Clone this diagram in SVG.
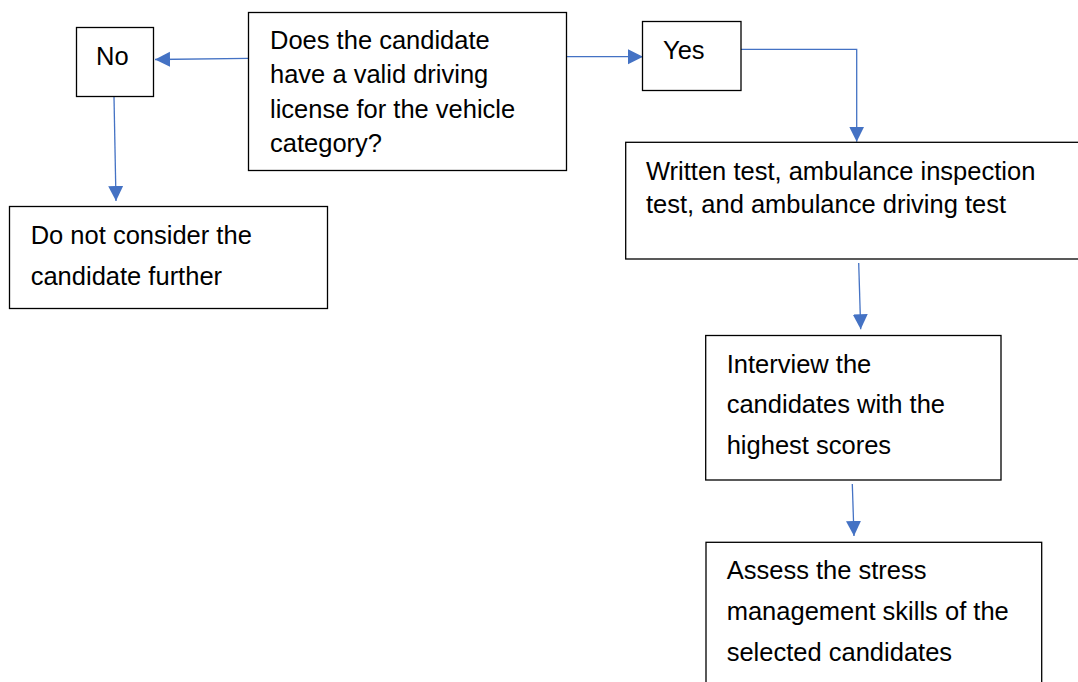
<svg xmlns="http://www.w3.org/2000/svg" width="1078" height="682" viewBox="0 0 1078 682">
<defs>
<marker id="arr" markerUnits="userSpaceOnUse" markerWidth="16" markerHeight="16" refX="15" refY="7.5" orient="auto">
<path d="M0,0 L15,7.5 L0,15 z" fill="#4472C4"/>
</marker>
<style>
.box{fill:#fff;stroke:#000;stroke-width:1.3}
.t{font-family:"Liberation Sans",Arial,sans-serif;font-size:25.5px;fill:#000}
.c{fill:none;stroke:#4472C4;stroke-width:1.3;marker-end:url(#arr)}
</style>
</defs>
<rect width="1078" height="682" fill="#fff"/>
<g id="connectors">
<path class="c" d="M249,58.3 L155,59.5"/>
<path class="c" d="M114,97 L116,201"/>
<path class="c" d="M566,56.7 L643,56.7"/>
<path class="c" d="M741,49.3 L856.7,49.3 L856.7,141.7"/>
<path class="c" d="M858.7,263 L860.7,329.3"/>
<path class="c" d="M852.3,484 L854,536"/>
</g>
<g id="n-question">
<rect class="box" x="248.5" y="12.5" width="318" height="158"/>
<text class="t" x="270" y="49">Does the candidate</text>
<text class="t" x="270" y="83.3">have a valid driving</text>
<text class="t" x="270" y="118">license for the vehicle</text>
<text class="t" x="270" y="151.7">category?</text>
</g>
<g id="n-no">
<rect class="box" x="76.5" y="27.5" width="77" height="69"/>
<text class="t" x="96" y="65">No</text>
</g>
<g id="n-reject">
<rect class="box" x="9.5" y="206.5" width="318" height="102"/>
<text class="t" x="30.7" y="244.3">Do not consider the</text>
<text class="t" x="30.7" y="285">candidate further</text>
</g>
<g id="n-yes">
<rect class="box" x="642.5" y="21.5" width="98.5" height="69"/>
<text class="t" x="663" y="59">Yes</text>
</g>
<g id="n-tests">
<rect class="box" x="625.7" y="142.3" width="470" height="116.7"/>
<text class="t" x="646" y="180">Written test, ambulance inspection</text>
<text class="t" x="646" y="213.3">test, and ambulance driving test</text>
</g>
<g id="n-interview">
<rect class="box" x="705.7" y="335.5" width="295.3" height="144.5"/>
<text class="t" x="726.7" y="372.7">Interview the</text>
<text class="t" x="726.7" y="413.3">candidates with the</text>
<text class="t" x="726.7" y="454.3">highest scores</text>
</g>
<g id="n-assess">
<rect class="box" x="706" y="542.3" width="335.7" height="160"/>
<text class="t" x="726.7" y="579.3">Assess the stress</text>
<text class="t" x="726.7" y="620">management skills of the</text>
<text class="t" x="726.7" y="660.7">selected candidates</text>
</g>
</svg>
